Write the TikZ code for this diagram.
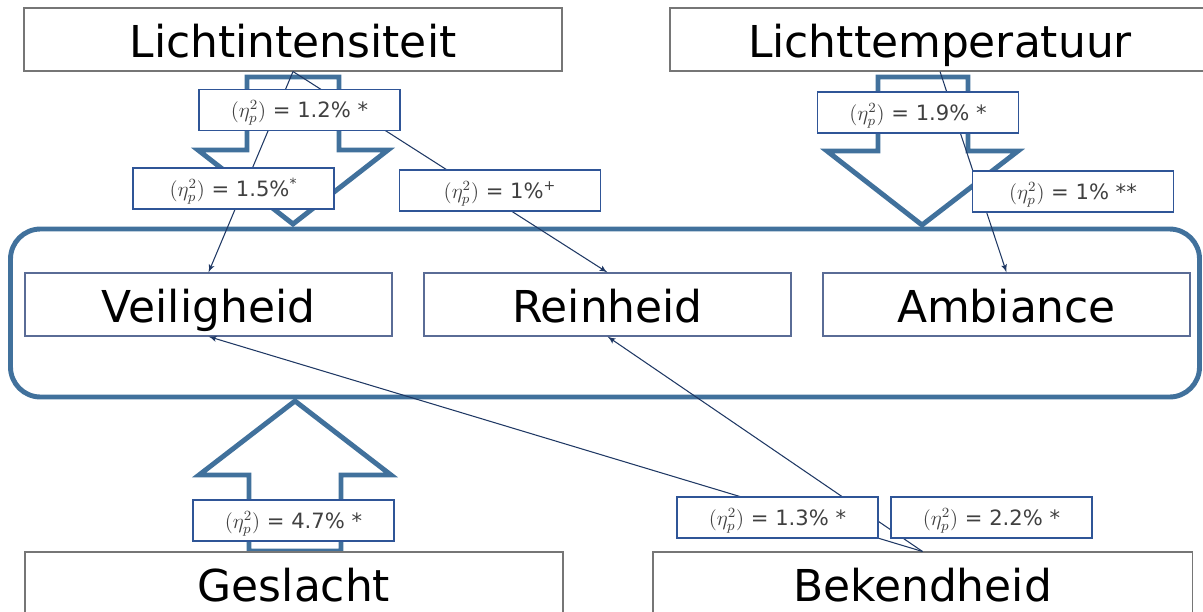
\documentclass[tikz,border=0pt]{standalone}
\usepackage{fontspec}
\setmainfont{DejaVu Sans}
\usepackage{xcolor}
\usepackage{tikz}
\usetikzlibrary{arrows}
\definecolor{arrowblue}{RGB}{65,113,156}
\definecolor{labelblue}{RGB}{47,85,151}
\definecolor{linknavy}{RGB}{31,56,100}
\definecolor{boxgray}{RGB}{118,118,118}
\definecolor{aspectblue}{RGB}{90,108,150}
\definecolor{labeltext}{RGB}{64,64,64}
\tikzset{
    bnode/.style = {align=center, inner sep=0pt, text centered},
    factor_box/.style = {bnode, rectangle, draw=boxgray, fill=white, minimum height=12.6mm, line width=0.6pt, text height=20pt, text depth=0pt, font=\fontsize{25}{30}\selectfont},
    aspect_box/.style = {bnode, rectangle, draw=aspectblue, minimum width=73.4mm, minimum height=12.6mm, line width=0.6pt, text height=20pt, text depth=0pt, font=\fontsize{25}{30}\selectfont},
    eta_label/.style = {bnode, rectangle, draw=labelblue, fill=white, text=labeltext, minimum width=40.2mm, minimum height=8.2mm, line width=0.6pt, text height=8.7pt, text depth=0pt, font=\fontsize{12}{14}\selectfont},
    block_arrow/.style = {draw=arrowblue, line width=2.8pt, line join=miter},
    link/.style = {->, >=latex', draw=linknavy, line width=0.6pt}
}

\begin{document}
\begin{tikzpicture}[x=0.2mm, y=-0.2mm]
    \useasboundingbox (0,0) rectangle (1203,611);
    \clip (0,0) rectangle (1203,611);

    \draw [block_arrow, rounded corners=6mm] (10.5,229) rectangle (1199.5,397);
    \draw [block_arrow] (247,77) -- (339,77) -- (339,150) -- (388,150) -- (293,224) -- (198,150) -- (247,150) -- cycle;
    \draw [block_arrow] (878,77) -- (968,77) -- (968,151) -- (1018,151) -- (922,225) -- (827,151) -- (878,151) -- cycle;
    \draw [block_arrow] (249,551) -- (341,551) -- (341,475) -- (391,475) -- (295,401) -- (199,475) -- (249,475) -- cycle;

    \node [factor_box, minimum width=107.6mm] (li) at (293,39.5) {Lichtintensiteit};
    \node [factor_box, minimum width=108mm] (lt) at (940,39.5) {Lichttemperatuur};
    \node [factor_box, minimum width=107.6mm] (ges) at (294,583.5) {Geslacht};
    \node [factor_box, minimum width=107.8mm] (bek) at (922.5,583.5) {Bekendheid};
    \node [aspect_box] (vei) at (208.5,304.5) {Veiligheid};
    \node [aspect_box] (rein) at (607.5,304.5) {Reinheid};
    \node [aspect_box] (amb) at (1006.5,304.5) {Ambiance};

    \draw [link] (li.south) -- (vei.north);
    \draw [link] (li.south) -- (rein.north);
    \draw [link] (lt.south) -- (amb.north);
    \draw [link] (bek.north) -- (vei.south);
    \draw [link] (bek.north) -- (rein.south);

    \node [eta_label] (li_all) at (299.5,110) {$(\eta_p^2)$ = 1.2\% *};
    \node [eta_label] (li_vei) at (233.5,188.5) {$(\eta_p^2)$ = 1.5\%\textsuperscript{*}};
    \node [eta_label] (li_rein) at (500,190.5) {$(\eta_p^2)$ = 1\%\textsuperscript{+}};
    \node [eta_label] (lt_all) at (918,112.5) {$(\eta_p^2)$ = 1.9\% *};
    \node [eta_label] (lt_amb) at (1073,191.5) {$(\eta_p^2)$ = 1\% **};
    \node [eta_label] (ges_all) at (293.5,520.5) {$(\eta_p^2)$ = 4.7\% *};
    \node [eta_label] (bek_vei) at (777.5,517.5) {$(\eta_p^2)$ = 1.3\% *};
    \node [eta_label] (bek_rein) at (991.5,517.5) {$(\eta_p^2)$ = 2.2\% *};
\end{tikzpicture}
\end{document}
